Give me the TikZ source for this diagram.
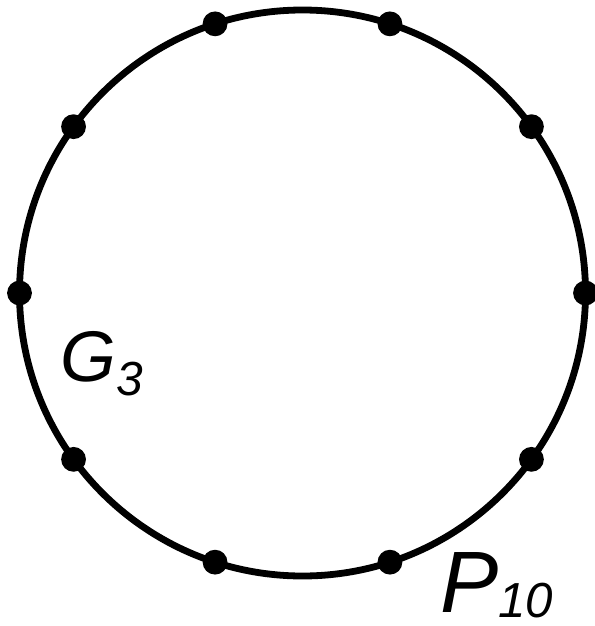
\documentclass[tikz,border=0pt]{standalone}
\usepackage{fontspec}
\setmainfont{Liberation Sans}
\usetikzlibrary{positioning, calc}

\begin{document}
\begin{tikzpicture}[x=0.025cm, y=-0.025cm,
    ring/.style={draw, line width=0.17cm},
    vtx/.style={circle, fill=black, inner sep=0pt, minimum size=0.62cm},
    lbl/.style={inner sep=0pt, anchor=base west, font=\itshape}
]
    \useasboundingbox (0,0) rectangle (594,626);
    \coordinate (ctr) at (302.5,293);
    \draw[ring] (ctr) circle [radius=283];
    \foreach \i in {1,...,10}
        \node[vtx] (v\i) at ($(ctr)+({36*(\i-1)}:283)$) {};
    \node[lbl] (g3) at (60,381) {\fontsize{51pt}{60pt}\selectfont G\raisebox{-0.2em}{\fontsize{34pt}{40pt}\selectfont 3}};
    \node[lbl] (p10) at (440,612) {\fontsize{62pt}{72pt}\selectfont P\raisebox{-0.06em}{\fontsize{35pt}{42pt}\selectfont 10}};
\end{tikzpicture}
\end{document}
